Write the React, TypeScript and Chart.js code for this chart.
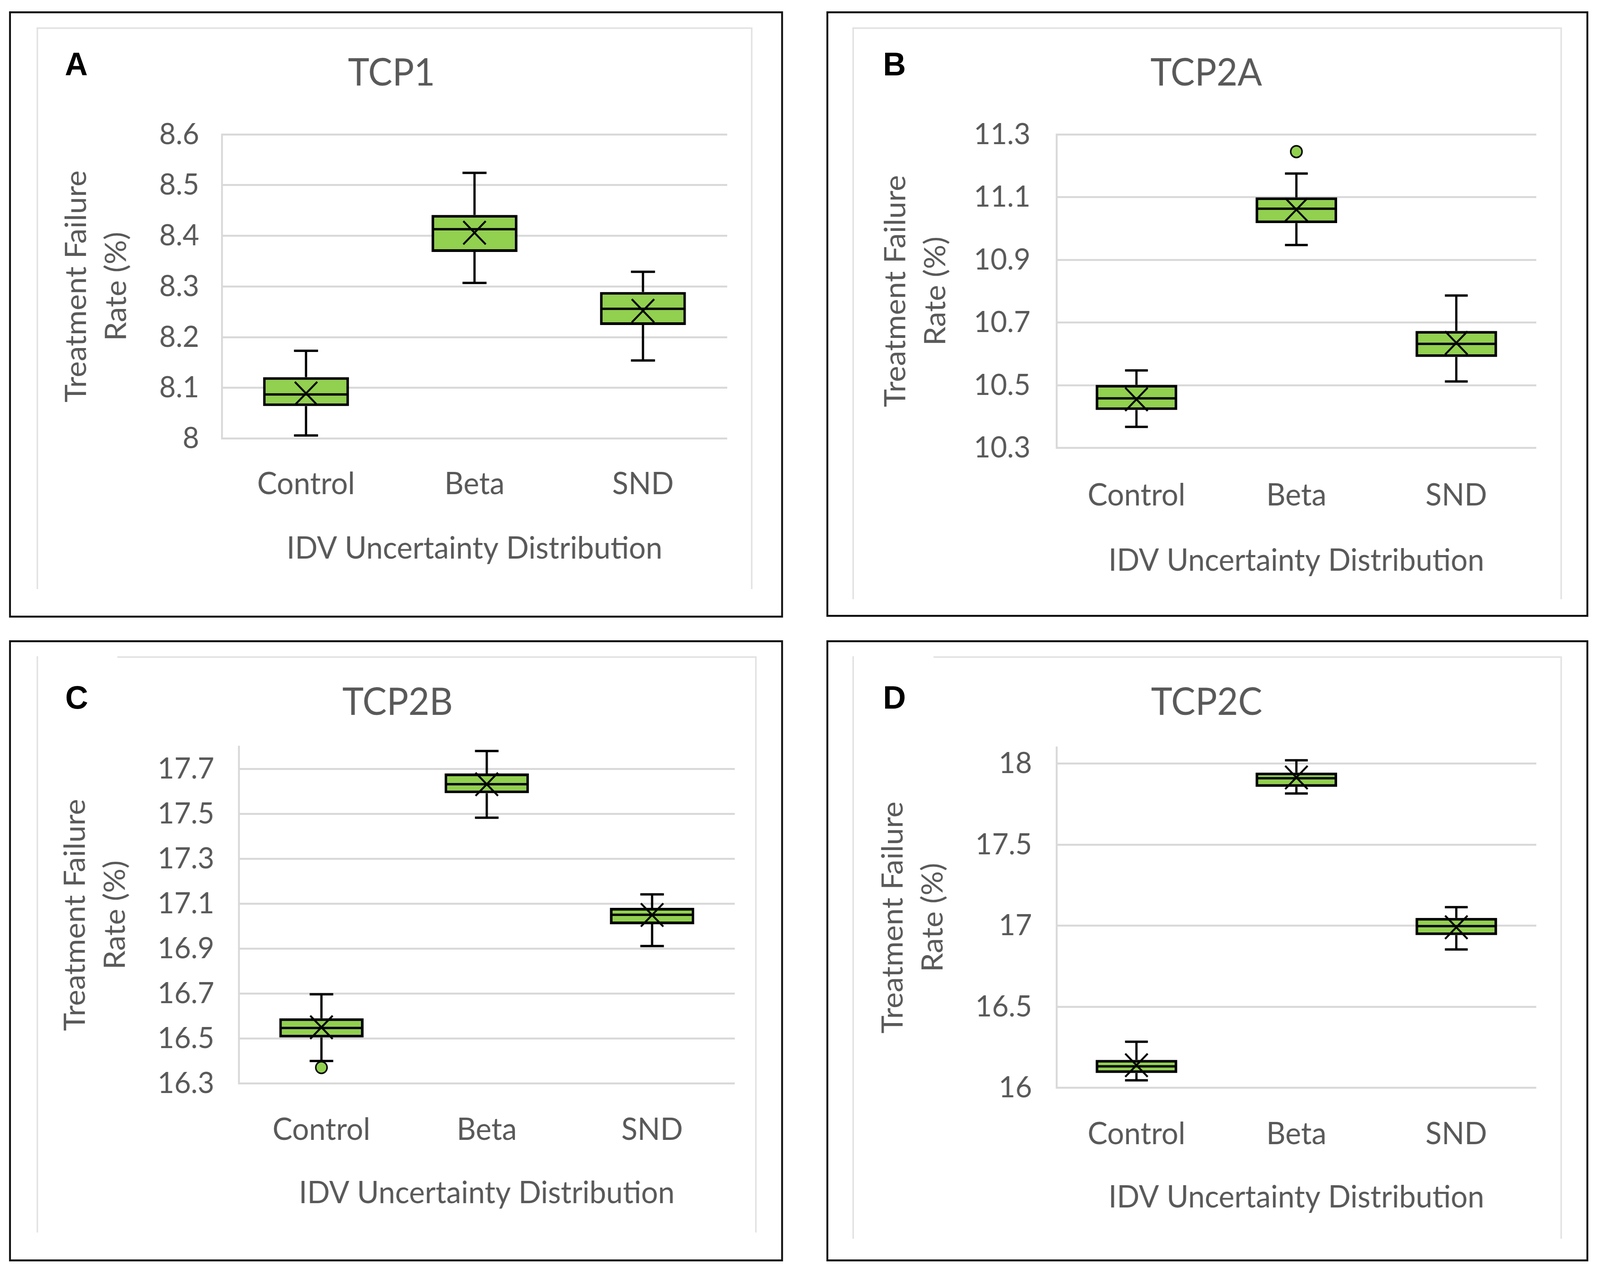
import React, { useEffect, useRef } from 'react';
import { Chart, registerables } from 'chart.js';

Chart.register(...registerables);

// ---------- data ----------
const CATEGORIES = ['Control', 'Beta', 'SND'];
const Y_AXIS_TITLE = ['Treatment Failure', 'Rate (%)'];
const X_AXIS_TITLE = 'IDV Uncertainty Distribution';

// Panel A - TCP1
const TCP1_MIN = [8.006, 8.307, 8.154];
const TCP1_Q1 = [8.064, 8.368, 8.224];
const TCP1_MEDIAN = [8.087, 8.413, 8.256];
const TCP1_Q3 = [8.121, 8.441, 8.289];
const TCP1_MAX = [8.173, 8.524, 8.329];
const TCP1_MEAN = [8.089, 8.406, 8.252];
const TCP1_OUTLIERS: (number | null)[] = [null, null, null];
const TCP1_TICKS = [8, 8.1, 8.2, 8.3, 8.4, 8.5, 8.6];
const TCP1_TICK_LABELS = ['8', '8.1', '8.2', '8.3', '8.4', '8.5', '8.6'];
const TCP1_RANGE = [8, 8.6];

// Panel B - TCP2A
const TCP2A_MIN = [10.367, 10.947, 10.512];
const TCP2A_Q1 = [10.421, 11.017, 10.59];
const TCP2A_MEDIAN = [10.458, 11.063, 10.632];
const TCP2A_Q3 = [10.501, 11.099, 10.673];
const TCP2A_MAX = [10.547, 11.175, 10.786];
const TCP2A_MEAN = [10.455, 11.06, 10.635];
const TCP2A_OUTLIERS: (number | null)[] = [null, 11.245, null];
const TCP2A_TICKS = [10.3, 10.5, 10.7, 10.9, 11.1, 11.3];
const TCP2A_TICK_LABELS = ['10.3', '10.5', '10.7', '10.9', '11.1', '11.3'];
const TCP2A_RANGE = [10.3, 11.3];

// Panel C - TCP2B
const TCP2B_MIN = [16.4, 17.483, 16.912];
const TCP2B_Q1 = [16.505, 17.592, 17.009];
const TCP2B_MEDIAN = [16.547, 17.632, 17.051];
const TCP2B_Q3 = [16.59, 17.68, 17.082];
const TCP2B_MAX = [16.697, 17.78, 17.142];
const TCP2B_MEAN = [16.55, 17.632, 17.05];
const TCP2B_OUTLIERS: (number | null)[] = [16.371, null, null];
const TCP2B_TICKS = [16.3, 16.5, 16.7, 16.9, 17.1, 17.3, 17.5, 17.7];
const TCP2B_TICK_LABELS = ['16.3', '16.5', '16.7', '16.9', '17.1', '17.3', '17.5', '17.7'];
const TCP2B_RANGE = [16.3, 17.8];

// Panel D - TCP2C
const TCP2C_MIN = [16.046, 17.815, 16.853];
const TCP2C_Q1 = [16.091, 17.856, 16.942];
const TCP2C_MEDIAN = [16.132, 17.909, 16.997];
const TCP2C_Q3 = [16.172, 17.944, 17.048];
const TCP2C_MAX = [16.284, 18.02, 17.114];
const TCP2C_MEAN = [16.139, 17.914, 16.99];
const TCP2C_OUTLIERS: (number | null)[] = [null, null, null];
const TCP2C_TICKS = [16, 16.5, 17, 17.5, 18];
const TCP2C_TICK_LABELS = ['16', '16.5', '17', '17.5', '18'];
const TCP2C_RANGE = [16, 18.1];

// ---------- styles ----------
const FONT = 'Lato, "Open Sans", sans-serif';
const GREEN = '#92d050';
const TEXT = '#595959';
const GRID = '#d9d9d9';
const AREA_LINE = '#e2e2e2';

const TITLE_SIZE = 96;
const TITLE_LH = 1.2;
const TICK_SIZE = 76;
const CAT_SIZE = 79;
const CAT_LH = 1.2;
const YT_SIZE = 78;
const YT_LH = 1.36;
const LETTER_SIZE = 84;

const PAGE_W = 4242;
const PAGE_H = 3269;

type Stats = {
  min: number[]; q1: number[]; median: number[]; q3: number[]; max: number[];
  mean: number[]; outliers: (number | null)[];
  ticks: number[]; tickLabels: string[]; range: number[];
};

type Layout = {
  letter: string; title: string;
  frame: { x: number; y: number; w: number; h: number };
  area: { x: number; y: number; r: number; b: number; topStart: number };
  plot: { l: number; r: number; t: number; b: number };
  titleCX: number; titleMY: number; yTitle1Mid: number;
  yTickPad: number; xTickPad: number; xTitleMid: number;
  letterPos: { x: number; y: number };
};

const PANELS: { stats: Stats; layout: Layout }[] = [
  {
    stats: { min: TCP1_MIN, q1: TCP1_Q1, median: TCP1_MEDIAN, q3: TCP1_Q3, max: TCP1_MAX, mean: TCP1_MEAN, outliers: TCP1_OUTLIERS, ticks: TCP1_TICKS, tickLabels: TCP1_TICK_LABELS, range: TCP1_RANGE },
    layout: {
      letter: 'A', title: 'TCP1',
      frame: { x: 24, y: 29, w: 2052, h: 1552 },
      area: { x: 97, y: 70, r: 1991, b: 1508, topStart: 97 },
      plot: { l: 588, r: 1928, t: 344, b: 1123 },
      titleCX: 1038, titleMY: 188, yTitle1Mid: 203,
      yTickPad: 60, xTickPad: 70, xTitleMid: 1405,
      letterPos: { x: 172, y: 122 },
    },
  },
  {
    stats: { min: TCP2A_MIN, q1: TCP2A_Q1, median: TCP2A_MEDIAN, q3: TCP2A_Q3, max: TCP2A_MAX, mean: TCP2A_MEAN, outliers: TCP2A_OUTLIERS, ticks: TCP2A_TICKS, tickLabels: TCP2A_TICK_LABELS, range: TCP2A_RANGE },
    layout: {
      letter: 'B', title: 'TCP2A',
      frame: { x: 2191, y: 29, w: 2020, h: 1550 },
      area: { x: 2260, y: 70, r: 4137, b: 1534, topStart: 2260 },
      plot: { l: 2801, r: 4073, t: 344, b: 1147 },
      titleCX: 3198, titleMY: 188, yTitle1Mid: 2375,
      yTickPad: 69, xTickPad: 75, xTitleMid: 1436,
      letterPos: { x: 2341, y: 122 },
    },
  },
  {
    stats: { min: TCP2B_MIN, q1: TCP2B_Q1, median: TCP2B_MEDIAN, q3: TCP2B_Q3, max: TCP2B_MAX, mean: TCP2B_MEAN, outliers: TCP2B_OUTLIERS, ticks: TCP2B_TICKS, tickLabels: TCP2B_TICK_LABELS, range: TCP2B_RANGE },
    layout: {
      letter: 'C', title: 'TCP2B',
      frame: { x: 24, y: 1639, w: 2052, h: 1590 },
      area: { x: 97, y: 1680, r: 2002, b: 3155, topStart: 311 },
      plot: { l: 633, r: 1948, t: 1911, b: 2774 },
      titleCX: 1054, titleMY: 1799, yTitle1Mid: 200,
      yTickPad: 65, xTickPad: 72, xTitleMid: 3055,
      letterPos: { x: 173, y: 1743 },
    },
  },
  {
    stats: { min: TCP2C_MIN, q1: TCP2C_Q1, median: TCP2C_MEDIAN, q3: TCP2C_Q3, max: TCP2C_MAX, mean: TCP2C_MEAN, outliers: TCP2C_OUTLIERS, ticks: TCP2C_TICKS, tickLabels: TCP2C_TICK_LABELS, range: TCP2C_RANGE },
    layout: {
      letter: 'D', title: 'TCP2C',
      frame: { x: 2191, y: 1639, w: 2020, h: 1590 },
      area: { x: 2260, y: 1680, r: 4137, b: 3171, topStart: 2475 },
      plot: { l: 2801, r: 4073, t: 1913, b: 2785 },
      titleCX: 3199, titleMY: 1799, yTitle1Mid: 2368,
      yTickPad: 65, xTickPad: 72, xTitleMid: 3066,
      letterPos: { x: 2341, y: 1743 },
    },
  },
];

function whiskerPlugin(s: Stats) {
  return {
    id: 'boxWhiskers',
    afterDatasetDraw(chart: any, args: any) {
      if (args.index !== 0) return;
      const ctx = chart.ctx as CanvasRenderingContext2D;
      const xs = chart.scales.x;
      const ys = chart.scales.y;
      const meta = chart.getDatasetMeta(0);
      ctx.save();
      ctx.strokeStyle = '#000';
      ctx.lineCap = 'butt';
      meta.data.forEach((bar: any, i: number) => {
        const cx = xs.getPixelForValue(i);
        const w = bar.width;
        const cap = w * 0.14;
        const yTop = ys.getPixelForValue(s.max[i]);
        const yQ3 = ys.getPixelForValue(s.q3[i]);
        const yQ1 = ys.getPixelForValue(s.q1[i]);
        const yBot = ys.getPixelForValue(s.min[i]);
        const yMed = ys.getPixelForValue(s.median[i]);
        ctx.lineWidth = 6;
        ctx.beginPath();
        ctx.moveTo(cx, yQ3); ctx.lineTo(cx, yTop);
        ctx.moveTo(cx - cap, yTop); ctx.lineTo(cx + cap, yTop);
        ctx.moveTo(cx, yQ1); ctx.lineTo(cx, yBot);
        ctx.moveTo(cx - cap, yBot); ctx.lineTo(cx + cap, yBot);
        ctx.stroke();
        ctx.lineWidth = 6;
        ctx.beginPath();
        ctx.moveTo(cx - w / 2 + 3, yMed); ctx.lineTo(cx + w / 2 - 3, yMed);
        ctx.stroke();
      });
      ctx.restore();
    },
  };
}

function Panel({ stats, layout }: { stats: Stats; layout: Layout }) {
  const ref = useRef<HTMLCanvasElement | null>(null);
  const { plot } = layout;
  const titleLh = TITLE_SIZE * TITLE_LH;
  const catLh = CAT_SIZE * CAT_LH;
  const ytLh = YT_SIZE * YT_LH;
  const CL = 2 * layout.titleCX - plot.r;
  const CR = plot.r + 10;
  const CT = plot.t - 290;
  const axisBottom = layout.xTitleMid + catLh / 2;
  const CB = axisBottom + 20;
  const W = Math.round(CR - CL);
  const H = Math.round(CB - CT);
  const titlePadTop = layout.titleMY - CT - titleLh / 2;
  const titlePadBottom = plot.t - CT - titlePadTop - titleLh;
  const xAxisH = axisBottom - plot.b;
  const yAxisW = plot.l - CL;
  const yTitlePad = layout.yTitle1Mid - CL - ytLh / 2;

  useEffect(() => {
    if (!ref.current) return;
    const config: any = {
      type: 'bar',
      data: {
        labels: CATEGORIES,
        datasets: [
          {
            type: 'bar',
            data: stats.q1.map((v, i) => [v, stats.q3[i]]),
            backgroundColor: GREEN,
            borderColor: '#000',
            borderWidth: 7,
            borderSkipped: false,
            categoryPercentage: 1,
            barPercentage: 0.51,
            order: 2,
          },
          {
            type: 'line',
            data: stats.mean,
            showLine: false,
            pointStyle: 'crossRot',
            pointRadius: 42,
            pointBorderWidth: 5,
            pointBorderColor: '#000',
            borderColor: '#000',
            order: 1,
          },
          {
            type: 'line',
            data: stats.outliers,
            showLine: false,
            pointStyle: 'circle',
            pointRadius: 15,
            pointBackgroundColor: GREEN,
            pointBorderColor: '#000',
            pointBorderWidth: 4,
            order: 0,
          },
        ],
      },
      options: {
        animation: false,
        responsive: false,
        maintainAspectRatio: false,
        devicePixelRatio: 1,
        events: [],
        layout: { autoPadding: false, padding: { left: 0, right: 10, top: 0, bottom: 20 } },
        plugins: {
          legend: { display: false },
          tooltip: { enabled: false },
          title: {
            display: true,
            text: layout.title,
            color: TEXT,
            font: { family: FONT, size: TITLE_SIZE, weight: 'normal', lineHeight: TITLE_LH },
            padding: { top: titlePadTop, bottom: titlePadBottom },
          },
        },
        scales: {
          x: {
            grid: { display: false, drawTicks: false },
            border: { display: false },
            ticks: {
              color: TEXT,
              font: { family: FONT, size: CAT_SIZE, lineHeight: CAT_LH },
              padding: layout.xTickPad,
              maxRotation: 0,
              autoSkip: false,
            },
            title: {
              display: true,
              text: X_AXIS_TITLE,
              color: TEXT,
              font: { family: FONT, size: CAT_SIZE, lineHeight: CAT_LH },
              padding: { top: 0, bottom: 0 },
            },
            afterFit: (s: any) => {
              s.height = xAxisH;
              s.paddingLeft = 0;
              s.paddingRight = 0;
            },
          },
          y: {
            min: stats.range[0],
            max: stats.range[1],
            afterBuildTicks: (s: any) => { s.ticks = stats.ticks.map((v) => ({ value: v })); },
            grid: { color: GRID, lineWidth: 5, drawTicks: false },
            border: { display: true, color: GRID, width: 5 },
            ticks: {
              color: TEXT,
              font: { family: FONT, size: TICK_SIZE },
              padding: layout.yTickPad,
              callback: (_v: any, i: number) => stats.tickLabels[i],
            },
            title: {
              display: true,
              text: Y_AXIS_TITLE,
              color: TEXT,
              font: { family: FONT, size: YT_SIZE, lineHeight: YT_LH },
              padding: { top: yTitlePad, bottom: 0 },
            },
            afterFit: (s: any) => {
              s.width = yAxisW;
              s.paddingTop = 0;
              s.paddingBottom = 0;
            },
          },
        },
      },
      plugins: [whiskerPlugin(stats)],
    };
    const chart = new Chart(ref.current, config);
    let alive = true;
    const fonts: any = (document as any).fonts;
    if (fonts && fonts.ready) {
      fonts.ready.then(() => { if (alive) chart.update(); });
    }
    return () => { alive = false; chart.destroy(); };
  }, []);

  const a = layout.area;
  const lineW = 4;
  return (
    <>
      <div style={{ position: 'absolute', left: layout.frame.x, top: layout.frame.y, width: layout.frame.w, height: layout.frame.h, boxSizing: 'border-box', border: '5px solid #111' }} />
      <div style={{ position: 'absolute', left: a.x, top: a.y, width: lineW, height: a.b - a.y, background: AREA_LINE }} />
      <div style={{ position: 'absolute', left: a.r, top: a.y, width: lineW, height: a.b - a.y, background: AREA_LINE }} />
      <div style={{ position: 'absolute', left: a.topStart, top: a.y, width: a.r - a.topStart, height: lineW, background: AREA_LINE }} />
      <div style={{ position: 'absolute', left: layout.letterPos.x, top: layout.letterPos.y, fontFamily: '"Liberation Sans", Arial, sans-serif', fontWeight: 'bold', fontSize: LETTER_SIZE, lineHeight: `${LETTER_SIZE}px`, color: '#000' }}>{layout.letter}</div>
      <canvas ref={ref} width={W} height={H} style={{ position: 'absolute', left: CL, top: CT, width: W, height: H }} />
    </>
  );
}

export default function App() {
  const vw = typeof window !== 'undefined' ? window.innerWidth : PAGE_W;
  const vh = typeof window !== 'undefined' ? window.innerHeight : PAGE_H;
  const sx = vw / PAGE_W;
  const sy = vh / PAGE_H;
  return (
    <div style={{ position: 'fixed', left: 0, top: 0, width: PAGE_W, height: PAGE_H, background: '#fff', overflow: 'hidden', transform: `scale(${sx}, ${sy})`, transformOrigin: '0 0' }}>
      {PANELS.map((p) => (
        <Panel key={p.layout.letter} stats={p.stats} layout={p.layout} />
      ))}
    </div>
  );
}
